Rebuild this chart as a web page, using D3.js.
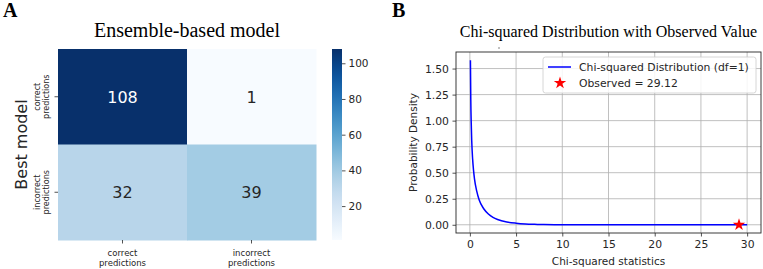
<!DOCTYPE html>
<html>
<head>
<meta charset="utf-8">
<script src="https://cdn.jsdelivr.net/npm/d3@7"></script>
<style>
  body { margin: 0; background: #fff; }
  svg { display: block; }
</style>
</head>
<body>
<svg id="Canvas" width="763" height="269"></svg>
<script>
// ---- data ----
var categories = ["correct predictions", "incorrect predictions"];
var counts = [[108, 1], [32, 39]];          // rows: Best model, cols: Ensemble-based model
var colorbarTicks = [20, 40, 60, 80, 100];

// chi-squared (df=1) density curve
var chiX = [0.06, 0.1, 0.15, 0.2, 0.3, 0.4, 0.5, 0.75, 1, 1.5, 2, 2.5, 3, 4, 5, 6, 7, 8, 10, 12, 15, 20, 25, 30];
var chiY = [1.58, 1.20, 0.97, 0.81, 0.63, 0.52, 0.44, 0.32, 0.24, 0.154, 0.104, 0.072, 0.051, 0.027, 0.015, 0.008, 0.0045, 0.0025, 0.0009, 0.0003, 0.0001, 0, 0, 0];
var observed = 29.12;
var xTicks = [0, 5, 10, 15, 20, 25, 30];
var yTicks = [0, 0.25, 0.5, 0.75, 1.0, 1.25, 1.5];

var svg = d3.select("#Canvas");
var sans = "DejaVu Sans, sans-serif";
var serif = "Liberation Serif, Times New Roman, serif";
var ink = "#262626";

// ---------------- panel A: heatmap ----------------
var hm = { left: 58, right: 316, top: 49, bottom: 240 };

var xBand = d3.scaleBand().domain(categories).range([hm.left, hm.right]);
var yBand = d3.scaleBand().domain(categories).range([hm.top, hm.bottom]);
var cmin = d3.min(counts.flat()), cmax = d3.max(counts.flat());
var color = d3.scaleSequential(d3.interpolateBlues).domain([cmin, cmax]);

svg.append("text")
  .attr("x", 3).attr("y", 17)
  .style("font-family", serif).style("font-weight", "bold").style("font-size", "20px")
  .text("A");

svg.append("text")
  .attr("x", (hm.left + hm.right) / 2).attr("y", 37)
  .attr("text-anchor", "middle")
  .style("font-family", serif).style("font-size", "20px")
  .text("Ensemble-based model");

var cells = [];
counts.forEach(function (row, i) {
  row.forEach(function (v, j) {
    cells.push({ r: categories[i], c: categories[j], v: v });
  });
});

svg.selectAll("rect.cell").data(cells).enter()
  .append("rect").attr("class", "cell")
  .attr("x", function (d) { return xBand(d.c); })
  .attr("y", function (d) { return yBand(d.r); })
  .attr("width", xBand.bandwidth() + 0.5)
  .attr("height", yBand.bandwidth() + 0.5)
  .attr("fill", function (d) { return color(d.v); });

svg.selectAll("text.cellLabel").data(cells).enter()
  .append("text").attr("class", "cellLabel")
  .attr("x", function (d) { return xBand(d.c) + xBand.bandwidth() / 2; })
  .attr("y", function (d) { return yBand(d.r) + yBand.bandwidth() / 2; })
  .attr("text-anchor", "middle").attr("dy", "0.36em")
  .style("font-family", sans).style("font-size", "16px")
  .attr("fill", function (d) { return (d.v - cmin) / (cmax - cmin) > 0.6 ? "#ffffff" : ink; })
  .text(function (d) { return d.v; });

// x ticks
var gx = svg.append("g");
categories.forEach(function (c) {
  var cx = xBand(c) + xBand.bandwidth() / 2;
  gx.append("line").attr("x1", cx).attr("x2", cx)
    .attr("y1", hm.bottom).attr("y2", hm.bottom + 3.5)
    .attr("stroke", ink).attr("stroke-width", 0.8);
  var words = c.split(" ");
  var t = gx.append("text").attr("text-anchor", "middle")
    .style("font-family", sans).style("font-size", "8.5px").attr("fill", ink);
  words.forEach(function (w, k) {
    t.append("tspan").attr("x", cx).attr("y", hm.bottom + 16 + k * 10).text(w);
  });
});

// y ticks (rotated two-line labels)
var gy = svg.append("g");
categories.forEach(function (c) {
  var cy = yBand(c) + yBand.bandwidth() / 2;
  gy.append("line").attr("x1", hm.left - 3.5).attr("x2", hm.left)
    .attr("y1", cy).attr("y2", cy)
    .attr("stroke", ink).attr("stroke-width", 0.8);
  var words = c.split(" ");
  var t = gy.append("text").attr("text-anchor", "middle")
    .attr("transform", "translate(" + 42 + "," + cy + ") rotate(-90)")
    .style("font-family", sans).style("font-size", "8px").attr("fill", ink);
  words.forEach(function (w, k) {
    t.append("tspan").attr("x", 0).attr("y", -2.5 + k * 9.5).text(w);
  });
});

svg.append("text")
  .attr("transform", "translate(" + 27 + "," + (hm.top + hm.bottom) / 2 + ") rotate(-90)")
  .attr("text-anchor", "middle")
  .style("font-family", sans).style("font-size", "16px").attr("fill", ink)
  .text("Best model");

// colorbar
var cb = { left: 332, width: 10 };
var cbScale = d3.scaleLinear().domain([cmin, cmax]).range([hm.bottom, hm.top]);
var grad = svg.append("defs").append("linearGradient")
  .attr("id", "cbGrad").attr("x1", 0).attr("x2", 0).attr("y1", 1).attr("y2", 0);
d3.range(0, 1.0001, 0.05).forEach(function (t) {
  grad.append("stop").attr("offset", t).attr("stop-color", d3.interpolateBlues(t));
});
svg.append("rect")
  .attr("x", cb.left).attr("y", hm.top)
  .attr("width", cb.width).attr("height", hm.bottom - hm.top)
  .attr("fill", "url(#cbGrad)");

var cbAxis = svg.append("g")
  .attr("transform", "translate(" + (cb.left + cb.width) + ",0)")
  .call(d3.axisRight(cbScale).tickValues(colorbarTicks).tickSize(3.5).tickPadding(3));
cbAxis.select(".domain").remove();
cbAxis.selectAll("line").attr("stroke", ink).attr("stroke-width", 0.8);
cbAxis.selectAll("text").style("font-family", sans).style("font-size", "10.5px").attr("fill", ink);

// ---------------- panel B: chi-squared line chart ----------------
var pb = { left: 456, right: 761, top: 52, bottom: 233 };
var x = d3.scaleLinear().domain([-1.5, 31.5]).range([pb.left, pb.right]);
var y = d3.scaleLinear().domain([-0.079, 1.659]).range([pb.bottom, pb.top]);

svg.append("text")
  .attr("x", 392).attr("y", 17)
  .style("font-family", serif).style("font-weight", "bold").style("font-size", "20px")
  .text("B");

svg.append("text")
  .attr("x", (pb.left + pb.right) / 2).attr("y", 37)
  .attr("text-anchor", "middle")
  .style("font-family", serif).style("font-size", "16px")
  .text("Chi-squared Distribution with Observed Value");

// grid
var grid = svg.append("g");
grid.selectAll("line.gx").data(xTicks).enter().append("line")
  .attr("x1", x).attr("x2", x).attr("y1", pb.top).attr("y2", pb.bottom)
  .attr("stroke", "#b0b0b0").attr("stroke-width", 0.8);
grid.selectAll("line.gy").data(yTicks).enter().append("line")
  .attr("y1", y).attr("y2", y).attr("x1", pb.left).attr("x2", pb.right)
  .attr("stroke", "#b0b0b0").attr("stroke-width", 0.8);

// curve
var pts = chiX.map(function (v, i) { return [v, chiY[i]]; });
var line = d3.line()
  .x(function (d) { return x(d[0]); })
  .y(function (d) { return y(d[1]); })
  .curve(d3.curveMonotoneX);
svg.append("path").datum(pts)
  .attr("d", line).attr("fill", "none")
  .attr("stroke", "#0000ff").attr("stroke-width", 1.5);

// observed marker
var star = d3.symbol().type(d3.symbolStar).size(48);
svg.append("path")
  .attr("d", star())
  .attr("transform", "translate(" + x(observed) + "," + y(0) + ")")
  .attr("fill", "#ff0000");

// axes
var ax = svg.append("g").attr("transform", "translate(0," + pb.bottom + ")")
  .call(d3.axisBottom(x).tickValues(xTicks).tickSize(3.5).tickPadding(3.5).tickFormat(d3.format("d")));
var ay = svg.append("g").attr("transform", "translate(" + pb.left + ",0)")
  .call(d3.axisLeft(y).tickValues(yTicks).tickSize(3.5).tickPadding(3.5).tickFormat(d3.format(".2f")));
[ax, ay].forEach(function (g) {
  g.select(".domain").remove();
  g.selectAll("line").attr("stroke", ink).attr("stroke-width", 0.8);
  g.selectAll("text").style("font-family", sans).style("font-size", "10.8px").attr("fill", ink);
});

svg.append("rect")
  .attr("x", pb.left).attr("y", pb.top)
  .attr("width", pb.right - pb.left).attr("height", pb.bottom - pb.top)
  .attr("fill", "none").attr("stroke", ink).attr("stroke-width", 0.9);

svg.append("text")
  .attr("x", (pb.left + pb.right) / 2).attr("y", 265)
  .attr("text-anchor", "middle")
  .style("font-family", sans).style("font-size", "10.5px").attr("fill", ink)
  .text("Chi-squared statistics");

svg.append("text")
  .attr("transform", "translate(" + 417 + "," + (pb.top + pb.bottom) / 2 + ") rotate(-90)")
  .attr("text-anchor", "middle")
  .style("font-family", sans).style("font-size", "10.5px").attr("fill", ink)
  .text("Probability Density");

// legend
var lg = svg.append("g").attr("transform", "translate(543,57)");
lg.append("rect")
  .attr("width", 213).attr("height", 36).attr("rx", 2.5)
  .attr("fill", "#ffffff").attr("fill-opacity", 0.85)
  .attr("stroke", "#cccccc").attr("stroke-width", 0.8);
lg.append("line").attr("x1", 5).attr("x2", 28).attr("y1", 10).attr("y2", 10)
  .attr("stroke", "#0000ff").attr("stroke-width", 1.5);
lg.append("path").attr("d", star()).attr("transform", "translate(17,26)").attr("fill", "#ff0000");
lg.append("text").attr("x", 36).attr("y", 10).attr("dy", "0.35em")
  .style("font-family", sans).style("font-size", "10.8px").attr("fill", ink)
  .text("Chi-squared Distribution (df=1)");
lg.append("text").attr("x", 36).attr("y", 26).attr("dy", "0.35em")
  .style("font-family", sans).style("font-size", "10.8px").attr("fill", ink)
  .text("Observed = " + observed.toFixed(2));

// small mark under the title seen in the reference
svg.append("circle").attr("cx", 499).attr("cy", 48).attr("r", 0.7).attr("fill", "#555");
</script>
</body>
</html>
